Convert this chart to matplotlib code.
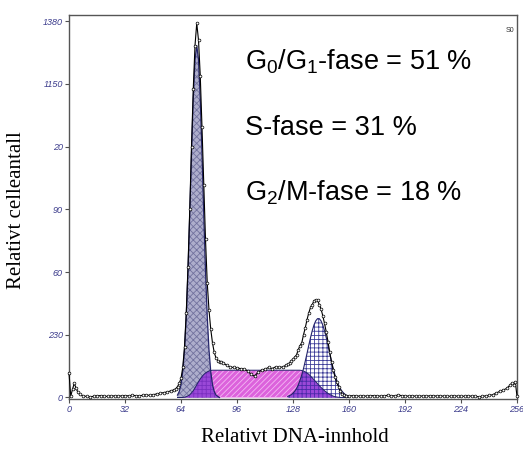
import matplotlib
matplotlib.use("Agg")
import matplotlib.pyplot as plt
import numpy as np

plt.rcParams['mathtext.fontset'] = 'custom'
plt.rcParams['mathtext.rm'] = 'Liberation Sans'
plt.rcParams['mathtext.it'] = 'Liberation Sans:italic'
plt.rcParams['hatch.linewidth'] = 0.6

# ---------------- data ----------------
data_ch = ([0, 1, 2, 3, 4, 5] + list(range(6, 61, 2)) + list(range(61, 88))
           + list(range(88, 125, 2)) + list(range(125, 158))
           + list(range(158, 253, 2)) + [253, 254, 255, 256])
data_counts = ([90, 5, 30, 52, 35, 20]
               + [12, 6, 4, 3, 4, 6, 7, 5, 4, 5, 6, 5, 6, 7, 6, 8, 7, 6, 8, 9, 8, 10, 13, 15, 18, 20, 24, 28]
               + [32, 40, 52, 70, 110, 185, 310, 480, 690, 920, 1130, 1290, 1372, 1310, 1180, 990,
                  780, 580, 420, 320, 250, 200, 165, 145, 135, 130, 130]
               + [128, 118, 112, 110, 108, 106, 104, 98, 85, 78, 92, 100, 104, 110, 106, 112, 110, 112, 118]
               + [122, 126, 135, 140, 148, 156, 175, 190, 200, 230, 255, 285, 310, 330, 340, 355, 358,
                  356, 340, 325, 300, 272, 240, 205, 165, 130, 100, 76, 55, 40, 25, 14, 9]
               + [6, 5, 7, 6, 5, 6, 5, 6, 7, 6, 5, 6, 8, 7, 6, 9, 7, 6, 5, 6,
                  5, 4, 6, 5, 6, 7, 5, 6, 5, 4, 5, 6, 5, 4, 5, 6, 5, 4, 3, 4,
                  6, 8, 10, 16, 22, 27, 33, 45]
               + [52, 47, 58, 5])

g1_ch = list(range(62, 87))
g1_fit = [9, 22, 47, 95, 174, 297, 464, 671, 894, 1095, 1238, 1290, 1238, 1095, 894, 671,
          464, 297, 174, 95, 47, 22, 9, 4, 0]

s_ch = list(range(62, 87)) + list(range(88, 125, 2)) + list(range(125, 161))
s_fit = ([0, 0, 0, 0, 1, 3, 6, 10, 17, 25, 35, 47, 58, 68, 77, 84, 90, 94, 97, 99, 100, 100, 100, 100, 100]
         + [100, 100, 100, 100, 100, 100, 100, 100, 100, 100, 100, 100, 100, 100, 100, 100, 100, 100, 100]
         + [100, 100, 100, 100, 100, 100, 100, 100, 99, 97, 94, 90, 85, 79, 72, 65, 58, 51, 44, 37,
            31, 25, 20, 15, 11, 8, 5, 3, 2, 1, 0, 0, 0, 0, 0, 0])

g2_ch = list(range(125, 161))
g2_fit = [4, 7, 10, 16, 23, 33, 46, 63, 83, 106, 133, 161, 191, 219, 245, 266, 281, 289,
          289, 281, 266, 245, 219, 191, 161, 133, 106, 83, 63, 46, 33, 23, 16, 10, 7, 4]

y_ticks = [0, 230, 460, 690, 920, 1150, 1380]
y_tick_labels = ['0', '230', '60', '90', '20', '1150', '1380']
x_ticks = [0, 32, 64, 96, 128, 160, 192, 224, 256]

phase_texts = [r'G$_0$/G$_1$-fase = 51 %', 'S-fase = 31 %', r'G$_2$/M-fase = 18 %']

# ---------------- figure ----------------
W, H = 523, 451
fig = plt.figure(figsize=(W / 100, H / 100), dpi=100)
ax = fig.add_axes([69 / W, 1 - 399 / H, (517 - 69) / W, (399 - 15) / H])

s_lookup = dict(zip(s_ch, s_fit))
ov1 = [min(g, s_lookup[c]) for c, g in zip(g1_ch, g1_fit)]
ov2 = [min(g, s_lookup[c]) for c, g in zip(g2_ch, g2_fit)]

outline = '#24246a'
# S phase
ax.fill_between(s_ch, 0, s_fit, facecolor='#dc62dc', edgecolor='#f4b8f4', hatch='//////', linewidth=0, zorder=1)
# G1
ax.fill_between(g1_ch, 0, g1_fit, facecolor='#aeaecc', edgecolor='#72729e', hatch='xxxxx', linewidth=0, zorder=2)
# G2
ax.fill_between(g2_ch, 0, g2_fit, facecolor='white', edgecolor='#3c3c98', hatch='++++', linewidth=0, zorder=2)
# overlaps
ax.fill_between(g1_ch, 0, ov1, facecolor='#9a48d8', edgecolor='#7a30c0', hatch='++++', linewidth=0, zorder=3)
ax.fill_between(g2_ch, 0, ov2, facecolor='#9a48d8', edgecolor='#4a2aa8', hatch='++++', linewidth=0, zorder=3)
# outlines
ax.plot(s_ch, s_fit, color=outline, lw=0.7, zorder=4)
ax.plot(g1_ch, g1_fit, color=outline, lw=0.9, zorder=4)
ax.plot(g2_ch, g2_fit, color=outline, lw=0.8, zorder=4)

# data curve
ax.plot(data_ch, data_counts, color='black', lw=0.8, marker='o', ms=2.0, mfc='white',
        mec='black', mew=0.5, zorder=5, clip_on=False)

ax.set_xlim(0, 256)
ax.set_ylim(-5.5, 1402)
ax.set_xticks(x_ticks)
ax.set_xticklabels([str(v) for v in x_ticks])
ax.set_yticks(y_ticks)
ax.set_yticklabels(y_tick_labels)
tick_col = '#3c3c8c'
ax.tick_params(direction='out', length=3, width=0.8, color='#505050', labelcolor=tick_col,
               labelsize=6.5, pad=1.5)
for lab in ax.get_xticklabels() + ax.get_yticklabels():
    lab.set_fontstyle('italic')
    lab.set_fontfamily('Liberation Sans')
for sp in ax.spines.values():
    sp.set_color('#555555')
    sp.set_linewidth(1.0)

# texts
ys = [62, 128, 193]
for t, y in zip(phase_texts, ys):
    fig.text(245 / W, 1 - y / H, t, fontsize=19.5, family='Liberation Sans', va='center', ha='left')

fig.text(514 / W, 1 - 30 / H, 'S0', fontsize=5, family='Liberation Sans', ha='right', va='center', color='#333333')

fig.text(295 / W, 1 - 437 / H, 'Relativt DNA-innhold', fontsize=15, family='Liberation Serif',
         ha='center', va='center')
fig.text(17 / W, 1 - 210 / H, 'Relativt celleantall', fontsize=15, family='Liberation Serif',
         ha='center', va='center', rotation=90)

fig.savefig('out.png', dpi=100)
